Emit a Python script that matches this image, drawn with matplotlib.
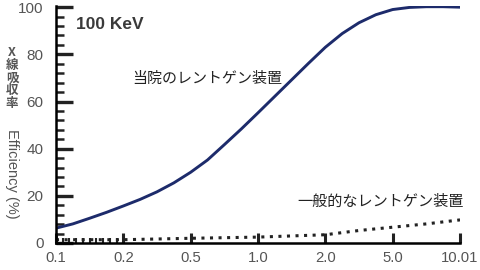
import matplotlib
matplotlib.use('Agg')
import matplotlib.pyplot as plt
import matplotlib.image as mpimg
from matplotlib.ticker import MultipleLocator, FixedLocator, FixedFormatter

plt.rcParams['font.family'] = ['Liberation Sans', 'Noto Sans CJK JP', 'DejaVu Sans']

# -- Data (x positions are evenly spaced categories)
tick_labels = ['0.1', '0.2', '0.5', '1.0', '2.0', '5.0', '10.01']

pos_ours = [0, 0.25, 0.5, 0.75, 1, 1.25, 1.5, 1.75, 2, 2.25, 2.5, 2.75, 3,
            3.25, 3.5, 3.75, 4, 4.25, 4.5, 4.75, 5, 5.25, 5.5, 5.75, 6]
ours = [6.3, 8.1, 10.5, 13.0, 15.7, 18.5, 21.7, 25.5, 30.0, 35.2, 41.7, 48.3,
        55.2, 62.2, 69.2, 76.2, 83.0, 88.8, 93.4, 96.8, 99.0, 99.9, 100.2,
        100.2, 100.0]

pos_general = [0, 1, 2, 3, 4, 4.5, 5, 5.5, 6]
general = [1.4, 1.4, 2.0, 2.5, 3.5, 5.3, 6.7, 8.1, 9.8]

navy = '#1d2b6b'
grey = '#555555'
dark = '#222222'

fig = plt.figure(figsize=(4.8, 2.7), dpi=100)
ax = fig.add_axes([56 / 480, 27 / 270, 404 / 480, 237 / 270])

ax.plot(pos_ours, ours, color=navy, lw=2.1, solid_capstyle='round')
ax.plot(pos_general, general, color='#222222', lw=2.2, linestyle=(0, (1, 1.8)))

ax.set_xlim(0, 6)
ax.set_ylim(0, 100.5)

ax.xaxis.set_major_locator(FixedLocator(range(len(tick_labels))))
ax.xaxis.set_major_formatter(FixedFormatter(tick_labels))
ax.xaxis.set_minor_locator(FixedLocator([0.1 * k for k in range(1, 10)]))
ax.yaxis.set_major_locator(MultipleLocator(20))
ax.yaxis.set_minor_locator(MultipleLocator(4))

ax.spines['top'].set_visible(False)
ax.spines['right'].set_visible(False)
ax.spines['left'].set_linewidth(1.8)
ax.spines['bottom'].set_linewidth(1.8)

ax.tick_params(axis='y', which='major', direction='in', length=12, width=2.4,
               color=dark, labelcolor=grey, labelsize=11, pad=9)
ax.tick_params(axis='y', which='minor', direction='in', length=6, width=1.8,
               color=dark)
ax.tick_params(axis='x', which='major', direction='in', length=7, width=2.2,
               color=dark, labelcolor=grey, labelsize=10.7, pad=6)
ax.tick_params(axis='x', which='minor', direction='in', length=3.5, width=1.5,
               color=dark)

ax.text(0.3, 92.5, '100 KeV', fontsize=12.5, fontweight='bold', color='#3a3a3a',
        va='center', ha='left')
ax.text(1.13, 69.5, '当院のレントゲン装置', fontsize=10.8, color='#222222',
        va='center', ha='left', family=['Noto Sans CJK JP', 'DejaVu Sans'])
ax.text(3.58, 17.5, '一般的なレントゲン装置', fontsize=10.9, color='#222222',
        va='center', ha='left', family=['Noto Sans CJK JP', 'DejaVu Sans'])

# -- Y label: upright Japanese on top, rotated English below
for i, ch in enumerate(['X', '線', '吸', '収', '率']):
    fig.text(12 / 480, 1 - (53 + 12.5 * i) / 270, ch, fontsize=9, color=grey,
             fontweight='bold', ha='center', va='center',
             family=['Noto Sans CJK JP', 'DejaVu Sans'])
fig.text(12 / 480, 1 - 174 / 270, 'Efficiency (%)', fontsize=10.5, color=grey,
         rotation=270, ha='center', va='center')

fig.savefig('out.png', dpi=100)

# -- sanity check: a y tick at 40 should leave dark pixels just right of the spine
img = mpimg.imread('out.png')
patch = img[144:154, 59:68, :3].mean(axis=2)
if patch.min() > 0.5:
    raise SystemExit('y ticks missing, min brightness %.2f' % patch.min())
